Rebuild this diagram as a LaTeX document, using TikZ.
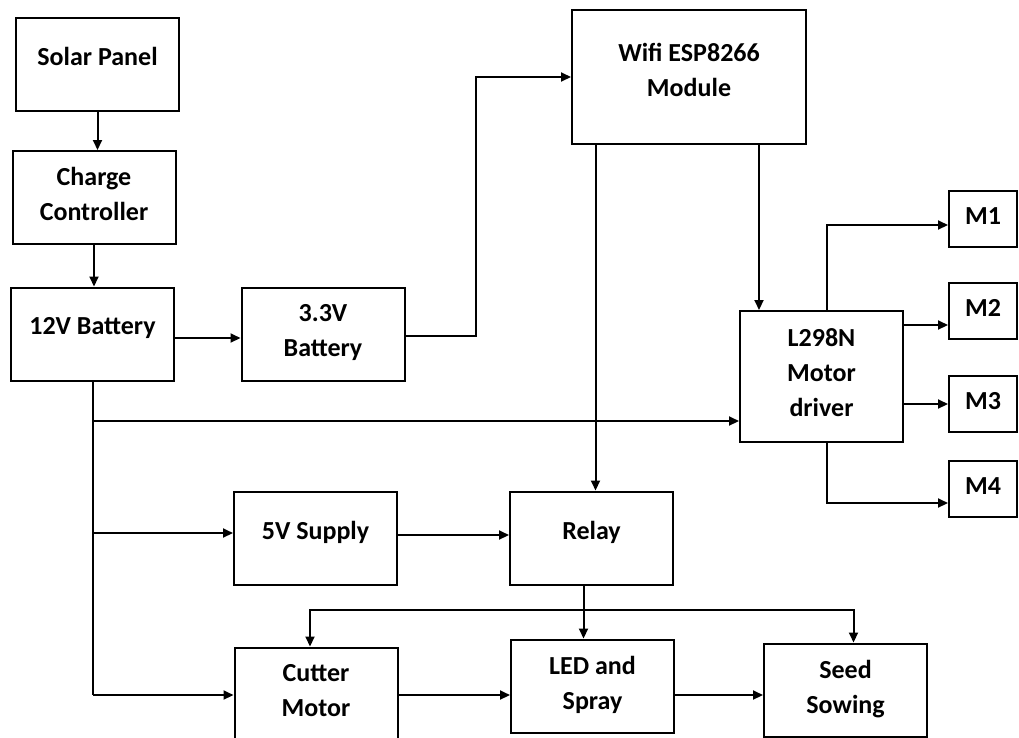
\documentclass[tikz,border=0pt]{standalone}
\usepackage{fontspec}
\setmainfont{Carlito}
\usetikzlibrary{arrows.meta,positioning,calc}

\begin{document}
\begin{tikzpicture}[
  x=1pt,y=-1pt,
  box/.style={draw,line width=2pt,minimum width=163pt,minimum height=93pt,align=center,inner sep=2pt,text depth=7pt,font=\bfseries\fontsize{26}{35}\selectfont},
  single/.style={text depth=16pt},
  mbox/.style={box,minimum width=68pt,minimum height=56pt},
  arr/.style={-{Triangle[length=10pt,width=9pt]},line width=2pt},
  wire/.style={line width=2pt}
]
  \useasboundingbox (0,0) rectangle (1019,737);
  \clip (0,0) rectangle (1019,737);
  \node[box,single] (solar) at (97.5,64.5) {Solar Panel};
  \node[box] (charge) at (94,197.5) {Charge\\Controller};
  \node[box,single] (bat12) at (92.5,334) {12V Battery};
  \node[box] (bat33) at (323,334) {3.3V\\Battery};
  \node[box,text depth=14pt,minimum width=234pt,minimum height=134pt] (wifi) at (689,77) {Wifi ESP8266\\Module};
  \node[box,minimum height=131pt] (driver) at (821.5,376.5) {L298N\\Motor\\driver};
  \node[mbox,text depth=6pt] (m1) at (983,219) {M1};
  \node[mbox,text depth=6pt] (m2) at (983,311) {M2};
  \node[mbox,text depth=6pt] (m3) at (983,404) {M3};
  \node[mbox,text depth=6pt] (m4) at (983,489) {M4};
  \node[box,single] (fivev) at (315.5,538) {5V Supply};
  \node[box,single] (relay) at (591.5,538) {Relay};
  \node[box] (cutter) at (316,694) {Cutter\\Motor};
  \node[box] (led) at (592.5,686) {LED and\\Spray};
  \node[box] (seed) at (845.5,690) {Seed\\Sowing};
  \coordinate (busend) at (bat12.south |- 0,695);
  \coordinate (tap) at ([xshift=-8pt]relay.south |- 0,610);
  \draw[arr] (solar.south) -- (solar.south |- charge.north);
  \draw[arr] (charge.south) -- (charge.south |- bat12.north);
  \draw[arr] ([yshift=-4pt]bat12.east) -- ([yshift=-4pt]bat12.east -| bat33.west);
  \draw[arr] ([yshift=-2pt]bat33.east) -- ++(70,0) |- (wifi.west);
  \draw[arr] ([xshift=4pt]relay.north |- wifi.south) -- ([xshift=4pt]relay.north);
  \draw[arr] ([xshift=20pt]driver.north west |- wifi.south) -- ([xshift=20pt]driver.north west);
  \draw[arr] ([xshift=5pt]driver.north) |- ([yshift=-6pt]m1.west);
  \draw[arr] ([yshift=-15pt]driver.north east) -- ([yshift=-15pt]driver.north east -| m2.west);
  \draw[arr] (m3.west -| driver.east) -- (m3.west);
  \draw[arr] ([xshift=5pt]driver.south) |- ([yshift=-14pt]m4.west);
  \draw[wire] (bat12.south) -- (busend);
  \draw[arr] (bat12.south |- 0,421) -- (driver.west |- 0,421);
  \draw[arr] ([yshift=5pt]bat12.south |- fivev.west) -- ([yshift=5pt]fivev.west);
  \draw[arr] (busend) -- (busend -| cutter.west);
  \draw[arr] ([yshift=3pt]fivev.east) -- ([yshift=3pt]relay.west);
  \draw[arr] ([xshift=-8pt]relay.south) -- ([xshift=-8pt]relay.south |- led.north);
  \draw[arr] (tap) -| ([xshift=-6pt]cutter.north);
  \draw[arr] (tap) -| ([xshift=8pt]seed.north);
  \draw[arr] ([yshift=-1pt]cutter.east) -- ([yshift=-1pt]cutter.east -| led.west);
  \draw[arr] ([yshift=-9pt]led.east) -- ([yshift=-9pt]led.east -| seed.west);
\end{tikzpicture}
\end{document}
